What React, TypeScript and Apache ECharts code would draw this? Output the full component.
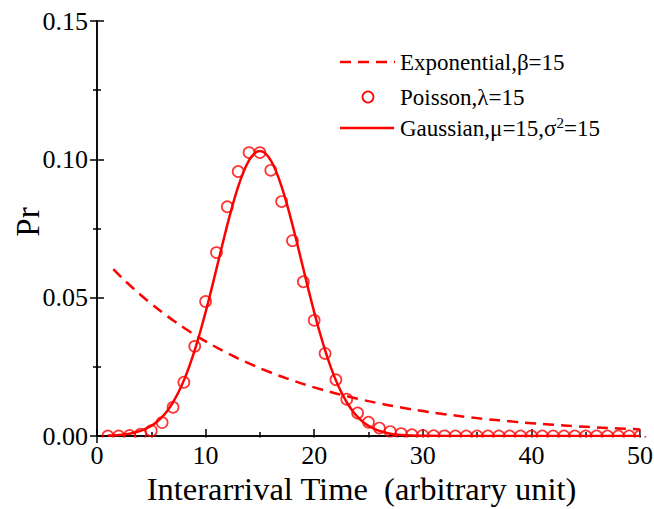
import React, { useEffect, useRef } from "react";
import * as echarts from "echarts";

// Exponential, beta = 15
const expX = [1.5, 2, 3, 4, 5, 6, 7, 8, 9, 10, 12, 14, 16, 18, 20, 22, 24, 26, 28, 30, 32, 34, 36, 38, 40, 42, 44, 46, 48, 50];
const expY = [0.06032, 0.05834, 0.05458, 0.05106, 0.04777, 0.04469, 0.04181, 0.03911, 0.03659, 0.03423, 0.02996, 0.02622, 0.02294, 0.02008, 0.01757, 0.01538, 0.01346, 0.01178, 0.01031, 0.00902, 0.0079, 0.00691, 0.00605, 0.00529, 0.00463, 0.00405, 0.00355, 0.0031, 0.00272, 0.00238];

// Poisson, lambda = 15 (k = 1..50)
const poisX = [1, 2, 3, 4, 5, 6, 7, 8, 9, 10, 11, 12, 13, 14, 15, 16, 17, 18, 19, 20, 21, 22, 23, 24, 25, 26, 27, 28, 29, 30, 31, 32, 33, 34, 35, 36, 37, 38, 39, 40, 41, 42, 43, 44, 45, 46, 47, 48, 49, 50];
const poisY = [0.0, 0.00003, 0.00017, 0.00065, 0.00194, 0.00484, 0.01037, 0.01944, 0.03241, 0.04861, 0.06629, 0.08286, 0.09561, 0.10244, 0.10244, 0.09603, 0.08474, 0.07061, 0.05575, 0.04181, 0.02986, 0.02036, 0.01328, 0.0083, 0.00498, 0.00287, 0.0016, 0.00086, 0.00044, 0.00022, 0.00011, 0.00005, 0, 0, 0, 0, 0, 0, 0, 0, 0, 0, 0, 0, 0, 0, 0, 0, 0, 0];

// Gaussian, mu = 15, sigma^2 = 15
const gaussX = [1, 2, 3, 4, 5, 5.5, 6, 6.5, 7, 7.5, 8, 8.5, 9, 9.5, 10, 10.5, 11, 11.5, 12, 12.5, 13, 13.5, 14, 14.5, 15, 15.5, 16, 16.5, 17, 17.5, 18, 18.5, 19, 19.5, 20, 20.5, 21, 21.5, 22, 22.5, 23, 23.5, 24, 24.5, 25, 26, 27, 28, 29, 30, 35, 40, 45, 50];
const gaussY = [0.00015, 0.00037, 0.00085, 0.00183, 0.00367, 0.00509, 0.00692, 0.00926, 0.0122, 0.0158, 0.02011, 0.02519, 0.03102, 0.03758, 0.04476, 0.05244, 0.06043, 0.06847, 0.0763, 0.08363, 0.09014, 0.09556, 0.09962, 0.10214, 0.103, 0.10214, 0.09962, 0.09556, 0.09014, 0.08363, 0.0763, 0.06847, 0.06043, 0.05244, 0.04476, 0.03758, 0.03102, 0.02519, 0.02011, 0.0158, 0.0122, 0.00926, 0.00692, 0.00509, 0.00367, 0.00183, 0.00085, 0.00037, 0.00015, 0.00006, 0, 0, 0, 0];

const legendLabels = ["Exponential,\u03b2=15", "Poisson,\u03bb=15", "Gaussian,\u03bc=15,\u03c3{sup|2}=15"];
const yTitle = "Pr";

const RED = "#ff0000";
const FONT = "'Liberation Serif', 'Times New Roman', serif";

export default function App() {
  const ref = useRef<HTMLDivElement>(null);
  useEffect(() => {
    if (!ref.current) return;
    const chart = echarts.init(ref.current, undefined, { renderer: "svg" });
    const axisLine = { show: true, lineStyle: { color: "#000", width: 1.5 } };
    const tick = { show: true, inside: true, length: 7, lineStyle: { color: "#000", width: 1.5 } };
    const minor = { show: true, splitNumber: 2, length: 4, lineStyle: { color: "#000", width: 1.5 } };
    const option: any = {
      animation: false,
      backgroundColor: "#fff",
      grid: { left: 97, right: 14, top: 21, bottom: 73, containLabel: false, outerBoundsMode: "none" },
      xAxis: [
        {
          type: "value", min: 0, max: 50, interval: 10, position: "bottom",
          axisLine, axisTick: tick, minorTick: minor, splitLine: { show: false },
          axisLabel: { fontSize: 26, fontFamily: FONT, color: "#000", margin: 6 },
          name: "Interarrival Time  (arbitrary unit)", nameLocation: "middle", nameGap: 36,
          nameTextStyle: { fontSize: 32.5, fontFamily: FONT, color: "#000", padding: [0, 14, 0, 0] },
        },
        {
          type: "value", min: 0, max: 50, interval: 10, position: "top",
          axisLine, axisTick: tick, minorTick: minor, splitLine: { show: false },
          axisLabel: { show: false },
        },
      ],
      yAxis: [
        {
          type: "value", min: 0, max: 0.15, interval: 0.05, position: "left",
          axisLine, axisTick: tick, minorTick: minor, splitLine: { show: false },
          axisLabel: { fontSize: 26, fontFamily: FONT, color: "#000", margin: 9, formatter: (v: number) => v.toFixed(2) },
        },
        {
          type: "value", min: 0, max: 0.15, interval: 0.05, position: "right",
          axisLine, axisTick: tick, minorTick: minor, splitLine: { show: false },
          axisLabel: { show: false },
        },
      ],
      series: [
        {
          type: "line", name: "Exponential", data: expX.map((x, i) => [x, expY[i]]),
          showSymbol: false, smooth: true, lineStyle: { color: RED, width: 2.5, type: [11, 7] }, z: 3,
        },
        {
          type: "line", name: "Gaussian", data: gaussX.map((x, i) => [x, gaussY[i]]),
          showSymbol: false, smooth: 0.3, lineStyle: { color: RED, width: 2.5 }, z: 3,
        },
        {
          type: "scatter", name: "Poisson", data: poisX.map((x, i) => [x, poisY[i]]),
          symbol: "circle", symbolSize: 11,
          itemStyle: { color: "rgba(0,0,0,0)", borderColor: RED, borderWidth: 1.7 }, z: 4,
        },
      ],
      graphic: [
        { type: "rect", z: 20, silent: true, shape: { x: 98, y: 437.6, width: 556, height: 6 }, style: { fill: "#fff" } },
        { type: "rect", z: 20, silent: true, shape: { x: 640.8, y: 0, width: 14, height: 436 }, style: { fill: "#fff" } },
        {
          type: "text", z: 30, x: 28, y: 222, rotation: Math.PI / 2,
          style: { text: yTitle, font: `33px ${FONT}`, fill: "#000", align: "center", verticalAlign: "middle" },
        },
        { type: "line", z: 30, shape: { x1: 340, y1: 62, x2: 395, y2: 62 }, style: { stroke: RED, lineWidth: 2.5, lineDash: [11, 7] } },
        { type: "text", z: 30, x: 400, y: 62, style: { text: legendLabels[0], font: `23px ${FONT}`, fill: "#000", verticalAlign: "middle" } },
        { type: "circle", z: 30, shape: { cx: 368, cy: 97, r: 5.5 }, style: { fill: "none", stroke: RED, lineWidth: 1.7 } },
        { type: "text", z: 30, x: 400, y: 97, style: { text: legendLabels[1], font: `23px ${FONT}`, fill: "#000", verticalAlign: "middle" } },
        { type: "line", z: 30, shape: { x1: 340, y1: 128, x2: 394, y2: 128 }, style: { stroke: RED, lineWidth: 2.5 } },
        {
          type: "text", z: 30, x: 400, y: 128,
          style: {
            text: legendLabels[2], fontFamily: FONT, fontSize: 23, fill: "#000", verticalAlign: "middle",
            rich: { sup: { fontSize: 15, fontFamily: FONT, verticalAlign: "top", lineHeight: 26, padding: [0, 0, 12, 0] } },
          },
        },
      ],
    };
    chart.setOption(option);
    return () => chart.dispose();
  }, []);
  return <div ref={ref} style={{ position: "fixed", left: 0, top: 0, width: 654, height: 509 }} />;
}
